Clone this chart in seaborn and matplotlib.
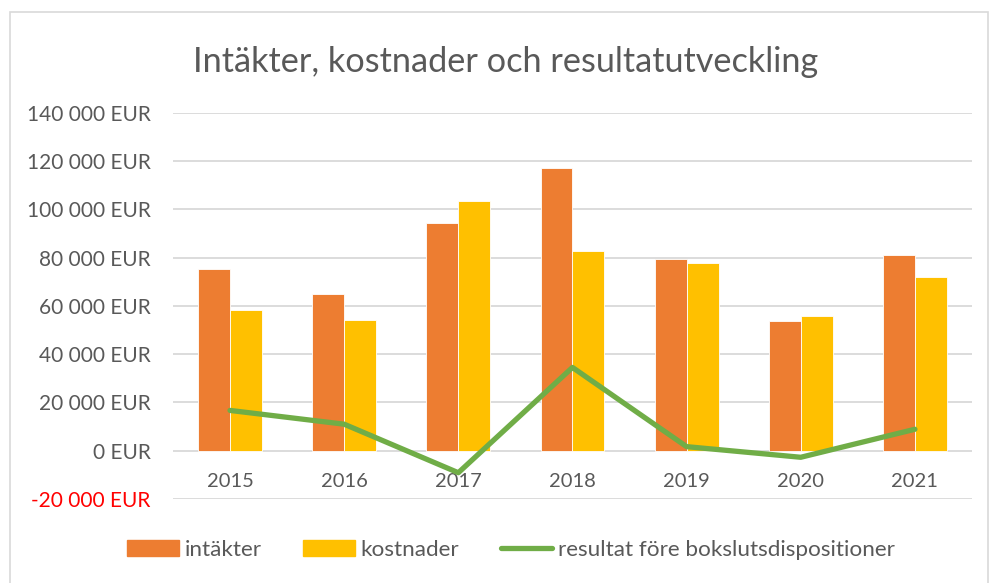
import numpy as np
import pandas as pd
import matplotlib.pyplot as plt
import matplotlib.patches as mpatches
import matplotlib.lines as mlines
from matplotlib.ticker import FuncFormatter
import seaborn as sns

# values (EUR)
years = ["2015", "2016", "2017", "2018", "2019", "2020", "2021"]
intakter = [75200, 64800, 94300, 117200, 79400, 53700, 81000]
kostnader = [58300, 54000, 103500, 82700, 77900, 56000, 72100]
resultat = [16700, 11000, -9100, 34500, 1700, -2700, 8900]
series_names = ["intäkter", "kostnader", "resultat före bokslutsdispositioner"]
yticks = [-20000, 0, 20000, 40000, 60000, 80000, 100000, 120000, 140000]

ORANGE = "#ED7D31"
YELLOW = "#FFC000"
GREEN = "#70AD47"
GRID = "#D9D9D9"
TEXT = "#595959"

sns.set_style("white")
plt.rcParams["font.family"] = ["Lato", "DejaVu Sans"]

df = pd.DataFrame({
    "year": years * 2,
    "value": intakter + kostnader,
    "serie": [series_names[0]] * len(years) + [series_names[1]] * len(years),
})

fig = plt.figure(figsize=(9.9, 5.83), dpi=100)
ax = fig.add_axes([0.1747, 0.144, 0.8071, 0.6627])

sns.barplot(data=df, x="year", y="value", hue="serie", order=years,
            palette=[ORANGE, YELLOW], width=0.56, gap=0, saturation=1,
            edgecolor="white", linewidth=0.6, legend=False, ax=ax, zorder=2)
sns.lineplot(x=np.arange(len(years)), y=resultat, color=GREEN, linewidth=3.8,
             solid_capstyle="round", ax=ax, zorder=3)

ax.set_ylim(-20000, 140000)
ax.set_xlim(-0.5, len(years) - 0.5)
ax.set_yticks(yticks)
ax.yaxis.set_major_formatter(FuncFormatter(lambda v, p: f"{v:,.0f}".replace(",", " ") + " EUR"))
ax.grid(axis="y", color=GRID, linewidth=1.3, zorder=0)
ax.set_axisbelow(True)
for s in ax.spines.values():
    s.set_visible(False)
ax.spines["bottom"].set_position(("data", 0))
ax.tick_params(axis="y", length=0, pad=16, labelsize=15, labelcolor=TEXT)
ax.tick_params(axis="x", length=0, pad=16, labelsize=14.5, labelcolor=TEXT)
for lab, v in zip(ax.get_yticklabels(), yticks):
    if v < 0:
        lab.set_color("#FF0000")
ax.set_xlabel("")
ax.set_ylabel("")

fig.text(0.511, 0.893, "Intäkter, kostnader och resultatutveckling",
         ha="center", va="center", fontsize=24.7, color=TEXT)

handles = [
    mpatches.Patch(color=ORANGE, label=series_names[0]),
    mpatches.Patch(color=YELLOW, label=series_names[1]),
    mlines.Line2D([], [], color=GREEN, linewidth=3.8, solid_capstyle="round", label=series_names[2]),
]
fig.legend(handles=handles, loc="center", bbox_to_anchor=(0.516, 0.057), ncol=3,
           frameon=False, fontsize=16.2, labelcolor=TEXT, handlelength=2.3,
           handleheight=0.75, handletextpad=0.25, columnspacing=1.85)

fig.add_artist(mpatches.Rectangle((10 / 990, -0.01), 978 / 990, (583 - 12) / 583 + 0.01,
                                  transform=fig.transFigure, fill=False,
                                  edgecolor=GRID, linewidth=1.2))

fig.savefig("out.png", dpi=100)
